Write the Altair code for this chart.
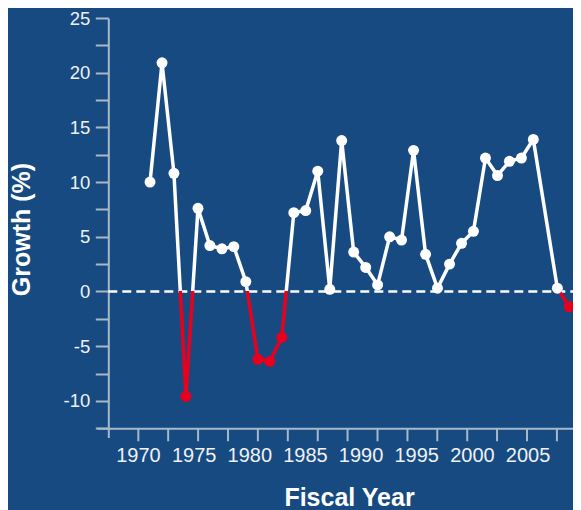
import altair as alt
import pandas as pd

# Fiscal-year positions as read against the labelled axis, and growth (%)
years = [1971.08, 1972.16, 1973.23, 1974.31, 1975.39, 1976.46, 1977.54, 1978.61,
         1979.69, 1980.77, 1981.84, 1982.92, 1984.00, 1985.07, 1986.15, 1987.23,
         1988.30, 1989.38, 1990.46, 1991.53, 1992.61, 1993.68, 1994.76, 1995.84,
         1996.91, 1997.99, 1999.07, 2000.14, 2001.22, 2002.30, 2003.37, 2004.45,
         2005.52, 2007.68, 2008.75]
growth = [10.0, 20.9, 10.8, -9.6, 7.6, 4.2, 3.9, 4.1,
          0.9, -6.2, -6.4, -4.2, 7.2, 7.4, 11.0, 0.2,
          13.8, 3.6, 2.2, 0.6, 5.0, 4.7, 12.9, 3.4,
          0.3, 2.5, 4.4, 5.5, 12.2, 10.6, 11.9, 12.2,
          13.9, 0.3, -1.4]

x_label_values = [1970, 1975, 1980, 1985, 1990, 1995, 2000, 2005]
x_tick_values = [1970.03, 1972.71, 1975.40, 1978.09, 1980.77, 1983.46, 1986.15,
                 1988.83, 1991.52, 1994.21, 1996.89, 1999.58, 2002.26, 2004.95, 2007.64]
y_tick_values = [-12.5, -10, -7.5, -5, -2.5, 0, 2.5, 5, 7.5, 10, 12.5, 15, 17.5, 20, 22.5, 25]

BG = "#174a80"
RED = "#e8001c"
WHITE = "#ffffff"
AXIS = "#a8b8cc"
LABEL = "#eef1f5"
FONT = "Liberation Sans"

W = 476
H = 419.5
XOFF = -9.25          # x axis drawn inside the plot bottom
AXIS_Y = H + XOFF     # pixel row of the x axis line

df = pd.DataFrame({"year": years, "growth": growth})
ticks_df = pd.DataFrame({"tick": x_tick_values})
zero_df = pd.DataFrame({"zero": [0]})

xscale = alt.Scale(domain=[1966.316, 2009.085], nice=False, zero=False)
yscale = alt.Scale(domain=[-13.35, 25], nice=False, zero=False)

gmax, gmin = max(growth), min(growth)
z = gmax / (gmax - gmin)
grad = alt.LinearGradient(
    gradient="linear", x1=0, x2=0, y1=0, y2=1,
    stops=[alt.GradientStop(color=WHITE, offset=0),
           alt.GradientStop(color=WHITE, offset=z),
           alt.GradientStop(color=RED, offset=z),
           alt.GradientStop(color=RED, offset=1)])

x_axis = alt.Axis(
    values=x_label_values, ticks=False, tickSize=0, domain=True,
    domainColor=AXIS, domainWidth=2, offset=XOFF, orient="bottom",
    labelFontSize=20, labelColor=LABEL, labelFont=FONT, labelPadding=17,
    labelFlush=False, labelOverlap=False, format="d", grid=False,
    title="Fiscal Year", titleFontSize=25, titleFont=FONT, titleFontWeight="bold",
    titleColor=WHITE, titleX=252, titleY=57.5, titleBaseline="top")

y_axis = alt.Axis(
    values=y_tick_values, labelExpr="datum.value % 5 === 0 ? '' + datum.value : ''",
    tickSize=13, tickWidth=2, tickColor=AXIS, domain=True, domainColor=AXIS,
    domainWidth=2, offset=-11.3, labelFontSize=18.5, labelColor=LABEL, labelFont=FONT,
    labelPadding=5.5, grid=False, title="Growth (%)", titleFontSize=25, titleFont=FONT,
    titleFontWeight="bold", titleColor=WHITE, titleX=-74, titleY=211,
    titleBaseline="bottom", titleAngle=270)

X = lambda f: alt.X(f, scale=xscale, axis=x_axis)
Y = lambda f: alt.Y(f, scale=yscale, axis=y_axis)

tick_layer = alt.Chart(ticks_df).mark_rule(color=AXIS, strokeWidth=2).encode(
    x=X("tick:Q"),
    y=alt.value(AXIS_Y), y2=alt.value(AXIS_Y + 13),
)

zero_layer = alt.Chart(zero_df).mark_rule(
    color=WHITE, strokeWidth=2.5, strokeDash=[9, 5]).encode(
    y=Y("zero:Q"),
    x=alt.value(11.3), x2=alt.value(W),
)

line_layer = alt.Chart(df).mark_line(stroke=grad, strokeWidth=3.5).encode(
    x=X("year:Q"),
    y=Y("growth:Q"),
)

point_layer = alt.Chart(df).mark_circle(size=120, opacity=1).encode(
    x=X("year:Q"),
    y=Y("growth:Q"),
    color=alt.condition("datum.growth < 0", alt.value(RED), alt.value(WHITE)),
)

chart = alt.layer(tick_layer, zero_layer, line_layer, point_layer).properties(
    width=W, height=H,
    autosize=alt.AutoSizeParams(type="none"),
    padding={"left": 89, "top": 10, "right": 0, "bottom": 72.5},
    background=BG,
).configure_view(stroke=None)

chart.save("out.html", embed_options={"renderer": "svg", "actions": False})
